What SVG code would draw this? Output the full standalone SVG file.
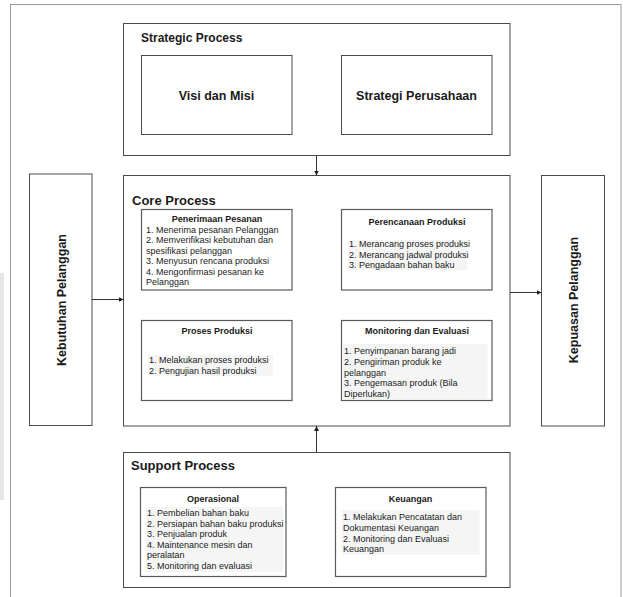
<svg xmlns="http://www.w3.org/2000/svg" width="623" height="597" viewBox="0 0 623 597">
<style>
  .frame{fill:none;stroke:#9a9a9a;stroke-width:1}
  .box{fill:#fff;stroke:#4a4a4a;stroke-width:1}
  .ibox{fill:#fff;stroke:#5a5a5a;stroke-width:1.2}
  .hl{fill:#f5f5f5}
  text{font-family:"Liberation Sans",Arial,sans-serif;fill:#1a1a1a}
  .h1{font-size:13px;font-weight:bold}
  .h2{font-size:12px;font-weight:bold}
  .lbl{font-size:12.5px;font-weight:bold;text-anchor:middle}
  .t{font-size:9px;font-weight:bold;text-anchor:middle}
  .li{font-size:9px}
  .conn{stroke:#333;stroke-width:1;fill:none}
</style>
<defs>
  <marker id="ah" viewBox="0 0 6 6" refX="6" refY="3" markerWidth="5" markerHeight="5" orient="auto">
    <path d="M0,0 L6,3 L0,6 z" fill="#222"/>
  </marker>
</defs>
<rect width="623" height="597" fill="#fff"/>
<rect x="0" y="273" width="4" height="227" fill="#e6e6e6"/>
<rect class="frame" x="10.5" y="4.5" width="610.5" height="600"/>

<g id="strategic">
  <rect class="box" x="123.5" y="23.5" width="386.5" height="132"/>
  <text class="h2" x="141" y="42">Strategic Process</text>
</g>
<g id="visi">
  <rect class="box" x="141.5" y="55.5" width="150.5" height="79"/>
  <text class="lbl" x="216.5" y="99.5">Visi dan Misi</text>
</g>
<g id="strategi">
  <rect class="box" x="341.5" y="55.5" width="150.5" height="79"/>
  <text class="lbl" x="416.5" y="99.5">Strategi Perusahaan</text>
</g>

<g id="kebutuhan">
  <rect class="box" x="29.5" y="174" width="62.5" height="251.5"/>
  <text class="lbl" transform="translate(66,300) rotate(-90)">Kebutuhan Pelanggan</text>
</g>
<g id="kepuasan">
  <rect class="box" x="541.5" y="175.5" width="63" height="250.5"/>
  <text class="lbl" transform="translate(578,300) rotate(-90)">Kepuasan Pelanggan</text>
</g>

<g id="core">
  <rect class="box" x="123.5" y="175.5" width="386.5" height="250.5"/>
  <text class="h1" x="132" y="205">Core Process</text>
</g>
<g id="penerimaan">
  <rect class="ibox" x="141.5" y="209.5" width="150.5" height="80.5"/>
  <text class="t" x="217" y="222">Penerimaan Pesanan</text>
  <text class="li" x="146" y="232.5">1. Menerima pesanan Pelanggan</text>
  <text class="li" x="146" y="243">2. Memverifikasi kebutuhan dan</text>
  <text class="li" x="146" y="253.5">spesifikasi pelanggan</text>
  <text class="li" x="146" y="264">3. Menyusun rencana produksi</text>
  <text class="li" x="146" y="274.5">4. Mengonfirmasi pesanan ke</text>
  <text class="li" x="146" y="285">Pelanggan</text>
</g>
<g id="perencanaan">
  <rect class="ibox" x="341.5" y="209.5" width="150.5" height="80.5"/>
  <rect class="hl" x="348" y="240" width="119" height="30"/>
  <text class="t" x="417" y="225">Perencanaan Produksi</text>
  <text class="li" x="349" y="247">1. Merancang proses produksi</text>
  <text class="li" x="349" y="257.5">2. Merancang jadwal produksi</text>
  <text class="li" x="349" y="268">3. Pengadaan bahan baku</text>
</g>
<g id="proses">
  <rect class="ibox" x="141.5" y="320.5" width="150.5" height="80"/>
  <rect class="hl" x="148" y="355" width="125" height="21"/>
  <text class="t" x="217" y="334">Proses Produksi</text>
  <text class="li" x="149" y="363">1. Melakukan proses produksi</text>
  <text class="li" x="149" y="373.5">2. Pengujian hasil produksi</text>
</g>
<g id="monitoring">
  <rect class="ibox" x="341.5" y="320.5" width="150.5" height="80"/>
  <rect class="hl" x="342.5" y="344" width="145" height="55"/>
  <text class="t" x="417" y="334">Monitoring dan Evaluasi</text>
  <text class="li" x="344" y="354">1. Penyimpanan barang jadi</text>
  <text class="li" x="344" y="365">2. Pengiriman produk ke</text>
  <text class="li" x="344" y="375.5">pelanggan</text>
  <text class="li" x="344" y="386">3. Pengemasan produk (Bila</text>
  <text class="li" x="344" y="396.5">Diperlukan)</text>
</g>

<g id="support">
  <rect class="box" x="123.5" y="452.5" width="386.5" height="135"/>
  <text class="h1" x="131" y="470">Support Process</text>
</g>
<g id="operasional">
  <rect class="ibox" x="140.5" y="487.5" width="145.5" height="89"/>
  <rect class="hl" x="146" y="507" width="137" height="65"/>
  <text class="t" x="213" y="502">Operasional</text>
  <text class="li" x="147" y="516">1. Pembelian bahan baku</text>
  <text class="li" x="147" y="526.5">2. Persiapan bahan baku produksi</text>
  <text class="li" x="147" y="537">3. Penjualan produk</text>
  <text class="li" x="147" y="547.5">4. Maintenance mesin dan</text>
  <text class="li" x="147" y="558">peralatan</text>
  <text class="li" x="147" y="568.5">5. Monitoring dan evaluasi</text>
</g>
<g id="keuangan">
  <rect class="ibox" x="335.5" y="487.5" width="150.5" height="89"/>
  <rect class="hl" x="341.5" y="510" width="138" height="45"/>
  <text class="t" x="410.5" y="502">Keuangan</text>
  <text class="li" x="343" y="520">1. Melakukan Pencatatan dan</text>
  <text class="li" x="343" y="530.5">Dokumentasi Keuangan</text>
  <text class="li" x="343" y="541.5">2. Monitoring dan Evaluasi</text>
  <text class="li" x="343" y="552">Keuangan</text>
</g>

<g id="connectors">
  <line class="conn" x1="316.5" y1="155.5" x2="316.5" y2="175.5" marker-end="url(#ah)"/>
  <line class="conn" x1="92" y1="299.5" x2="123.5" y2="299.5" marker-end="url(#ah)"/>
  <line class="conn" x1="510" y1="292.5" x2="541.5" y2="292.5" marker-end="url(#ah)"/>
  <line class="conn" x1="316.5" y1="452.5" x2="316.5" y2="426" marker-end="url(#ah)"/>
</g>
</svg>
